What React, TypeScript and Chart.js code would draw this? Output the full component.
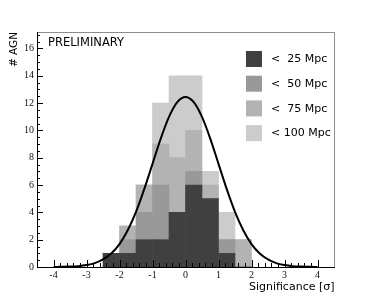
import React, { useEffect, useRef } from "react";
import { Chart, registerables } from "chart.js";

Chart.register(...registerables);

// ---- data ----
const binCenters = [-2.25, -1.75, -1.25, -0.75, -0.25, 0.25, 0.75, 1.25, 1.75];
const below25 = [1, 1, 2, 2, 4, 6, 5, 1, 0];
const below50 = [0, 1, 2, 4, 0, 1, 0, 1, 0];
const below75 = [0, 1, 2, 3, 4, 3, 1, 0, 2];
const below100 = [0, 0, 0, 3, 6, 4, 1, 2, 0];

const seriesLabels = ["<  25 Mpc", "<  50 Mpc", "<  75 Mpc", "< 100 Mpc"];
const seriesColors = ["#404040", "#999999", "#b3b3b3", "#cccccc"];

// Gaussian curve at 0.25 steps
const curveX = [
  -4, -3.75, -3.5, -3.25, -3, -2.75, -2.5, -2.25, -2, -1.75, -1.5, -1.25, -1, -0.75, -0.5, -0.25, 0,
  0.25, 0.5, 0.75, 1, 1.25, 1.5, 1.75, 2, 2.25, 2.5, 2.75, 3, 3.25, 3.5, 3.75, 4,
];
const curveY = [
  0.0, 0.01, 0.03, 0.06, 0.14, 0.28, 0.55, 0.99, 1.68, 2.69, 4.04, 5.7, 7.55, 9.4, 10.99, 12.07, 12.45,
  12.07, 10.99, 9.4, 7.55, 5.7, 4.04, 2.69, 1.68, 0.99, 0.55, 0.28, 0.14, 0.06, 0.03, 0.01, 0.0,
];

const xMin = -4;
const xMax = 4;
const yMin = 0;
const yMax = 17.2;
const xTitle = "Significance [σ]";
const yTitle = "# AGN";
const watermark = "PRELIMINARY";

const W = 374;
const H = 298;

const rootPlugin = {
  id: "rootStyle",
  afterDatasetsDraw(chart: any) {
    const { ctx, chartArea, scales } = chart;
    const { left, right, top, bottom } = chartArea;
    const xs = scales.x;
    const ys = scales.y;
    ctx.save();
    ctx.lineWidth = 1;
    // frame (top / right in grey)
    ctx.strokeStyle = "#8c8c8c";
    ctx.beginPath();
    ctx.moveTo(left, Math.round(top) + 0.5);
    ctx.lineTo(Math.round(right) + 0.5, Math.round(top) + 0.5);
    ctx.lineTo(Math.round(right) + 0.5, bottom);
    ctx.stroke();
    // axes
    ctx.strokeStyle = "#000";
    ctx.beginPath();
    ctx.moveTo(Math.round(left) + 0.5, Math.round(top));
    ctx.lineTo(Math.round(left) + 0.5, Math.round(bottom) + 0.5);
    ctx.lineTo(Math.round(right) + 1, Math.round(bottom) + 0.5);
    ctx.stroke();
    // x ticks (inside)
    ctx.beginPath();
    for (let i = xMin * 5; i <= xMax * 5; i++) {
      const v = i / 5;
      const px = Math.round(xs.getPixelForValue(v)) + 0.5;
      const len = i % 5 === 0 ? 7 : 4;
      ctx.moveTo(px, bottom);
      ctx.lineTo(px, bottom - len);
    }
    // y ticks (inside)
    for (let i = 0; i <= 34; i++) {
      const v = i / 2;
      if (v > yMax) break;
      const py = Math.round(ys.getPixelForValue(v)) + 0.5;
      const len = i % 4 === 0 ? 6 : 3;
      ctx.moveTo(left, py);
      ctx.lineTo(left + len, py);
    }
    ctx.stroke();

    // watermark
    ctx.fillStyle = "#000";
    ctx.font = "11.5px 'DejaVu Sans'";
    ctx.textAlign = "left";
    ctx.textBaseline = "alphabetic";
    ctx.fillText(watermark, 48, 45.5);

    // legend
    const datasets = chart.data.datasets.filter((d: any) => d.type === "bar");
    ctx.font = "11px 'DejaVu Sans'";
    ctx.textBaseline = "middle";
    datasets.forEach((d: any, i: number) => {
      const by = 51 + i * 24.7;
      ctx.fillStyle = d.backgroundColor;
      ctx.fillRect(246, by, 16, 16);
      ctx.fillStyle = "#000";
      ctx.fillText(d.label, 271, by + 8.5);
    });

    // axis titles
    ctx.font = "11px 'DejaVu Sans'";
    ctx.textAlign = "right";
    ctx.textBaseline = "alphabetic";
    ctx.fillText(xTitle, right + 0.5, 289.5);

    ctx.save();
    ctx.translate(17, top);
    ctx.rotate(-Math.PI / 2);
    ctx.font = "10.5px 'DejaVu Sans'";
    ctx.textAlign = "right";
    ctx.fillText(yTitle, 0, 0);
    ctx.restore();

    ctx.restore();
  },
};

export default function App() {
  const ref = useRef<HTMLCanvasElement | null>(null);
  useEffect(() => {
    if (!ref.current) return;
    const stacks = [below25, below50, below75, below100];
    const chart = new Chart(ref.current, {
      type: "bar",
      data: {
        datasets: [
          {
            type: "line",
            label: "fit",
            data: curveX.map((x, i) => ({ x, y: curveY[i] })),
            borderColor: "#000",
            borderWidth: 2,
            pointRadius: 0,
            cubicInterpolationMode: "monotone",
            fill: false,
            stack: "gauss",
            order: 0,
          } as any,
          ...stacks.map((vals, k) => ({
            type: "bar",
            label: seriesLabels[k],
            data: binCenters.map((x, i) => ({ x, y: vals[i] })),
            backgroundColor: seriesColors[k],
            borderWidth: 0,
            barPercentage: 1,
            categoryPercentage: 1,
            stack: "hist",
            order: 1,
          } as any)),
        ],
      },
      options: {
        responsive: false,
        animation: false,
        devicePixelRatio: 1,
        events: [],
        layout: { padding: { top: 32, right: 40, left: 0, bottom: 0 } },
        plugins: {
          legend: { display: false },
          tooltip: { enabled: false },
          title: { display: false },
        },
        scales: {
          x: {
            type: "linear",
            min: xMin,
            max: xMax,
            stacked: true,
            grid: { display: false, drawTicks: false },
            border: { display: false },
            ticks: {
              stepSize: 1,
              padding: 2,
              color: "#111",
              font: { family: "'Liberation Serif'", size: 10 },
              maxRotation: 0,
              includeBounds: false,
            },
            afterFit: (s: any) => {
              s.height = 31;
            },
          },
          y: {
            type: "linear",
            min: yMin,
            max: yMax,
            stacked: true,
            grid: { display: false, drawTicks: false },
            border: { display: false },
            ticks: {
              stepSize: 2,
              padding: 3,
              color: "#111",
              font: { family: "'Liberation Serif'", size: 10 },
              includeBounds: false,
            },
            afterFit: (s: any) => {
              s.width = 37;
            },
          },
        },
      },
      plugins: [rootPlugin],
    });
    return () => chart.destroy();
  }, []);
  return (
    <div style={{ position: "fixed", left: 0, top: 0, width: W, height: H, background: "#fff" }}>
      <canvas ref={ref} width={W} height={H} style={{ display: "block", width: W, height: H }} />
    </div>
  );
}
